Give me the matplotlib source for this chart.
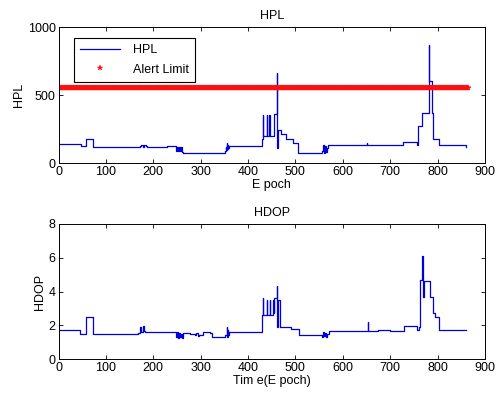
import numpy as np
import matplotlib.pyplot as plt

plt.rcParams['font.family'] = ['Liberation Sans', 'DejaVu Sans']
plt.rcParams['font.size'] = 9

# HPL step breakpoints (epoch, value)
hpl_ep = [0, 47, 58, 73, 172, 175, 178, 181, 184, 186, 228, 249, 251, 253, 255, 257, 259, 261, 263,
          352, 353, 354, 355, 356, 357, 358, 359, 430, 431, 432, 439, 440, 445, 446, 454, 455,
          461, 462, 463, 470, 472, 480, 495, 506, 557, 559, 561, 563, 565, 567, 569,
          650, 652, 655, 700, 728, 757, 759, 760, 767, 781, 782, 783, 788, 791, 803, 860]
hpl_val = [140, 125, 175, 120, 125, 135, 120, 135, 122, 115, 122, 90, 120, 85, 118, 88, 115, 80, 75,
           90, 120, 95, 145, 100, 130, 110, 122, 175, 350, 195, 350, 195, 350, 200, 350, 360,
           660, 110, 240, 215, 215, 180, 150, 75, 90, 130, 75, 125, 80, 110, 130,
           145, 130, 130, 135, 155, 130, 270, 270, 370, 870, 600, 600, 370, 180, 130, 120]

alert_limit = 550
alert_ep = np.arange(0, 866)

# HDOP step breakpoints (epoch, value)
hdop_ep = [0, 45, 58, 73, 168, 172, 175, 178, 181, 183, 228, 249, 251, 253, 255, 257, 259, 261, 263,
           278, 288, 291, 294, 296, 305, 320, 323, 352, 355, 356, 357, 358, 360, 430, 431, 432, 440, 441,
           446, 447, 453, 454, 455, 461, 462, 463, 467, 490, 507, 557, 559, 561, 563, 565, 567, 570,
           653, 654, 655, 675, 700, 730, 757, 760, 762, 768, 770, 771, 783, 790, 795, 803, 806, 860]
hdop_val = [1.7, 1.5, 2.5, 1.5, 1.55, 1.9, 1.6, 1.95, 1.65, 1.6, 1.58, 1.3, 1.6, 1.25, 1.55, 1.3, 1.5, 1.25, 1.55,
            1.5, 1.4, 1.55, 1.35, 1.45, 1.6, 1.55, 1.3, 1.45, 1.9, 1.3, 1.7, 1.4, 1.6, 2.6, 3.6, 2.6, 3.5, 2.6,
            3.5, 2.6, 3.5, 2.7, 3.6, 4.35, 1.9, 3.5, 1.9, 1.75, 1.4, 1.3, 1.6, 1.35, 1.55, 1.3, 1.5, 1.65,
            2.2, 1.65, 1.65, 1.7, 1.65, 1.95, 1.7, 1.9, 4.7, 6.1, 3.7, 4.6, 3.7, 2.7, 2.5, 1.7, 1.7, 1.7]

fig = plt.figure(figsize=(4.96, 3.93), dpi=100)

ax1 = fig.add_axes([58.5/496, 1-163/393, 426.5/496, 136/393])
ax1.plot(hpl_ep, hpl_val, color='#0000dd', lw=0.9, drawstyle='steps-post', label='HPL')
ax1.plot(alert_ep, np.full(len(alert_ep), alert_limit), ls='none', marker='*',
         ms=4, mew=0.3, color='#ff1010', label='Alert Limit')
ax1.set_xlim(0, 900)
ax1.set_ylim(0, 1000)
ax1.set_xticks(range(0, 901, 100))
ax1.set_yticks([0, 500, 1000])
ax1.set_title('HPL', fontsize=9, pad=6)
ax1.set_xlabel('E poch', labelpad=1)
ax1.set_ylabel('HPL', labelpad=2)
leg = ax1.legend(loc='upper left', bbox_to_anchor=(0.022, 0.965), fancybox=False,
                 edgecolor='black', framealpha=1, handlelength=3.2, markerscale=1,
                 borderpad=0.5, labelspacing=0.6, handletextpad=1.0)
leg.get_frame().set_linewidth(0.8)

ax2 = fig.add_axes([58.5/496, 1-359/393, 426.5/496, 135/393])
ax2.plot(hdop_ep, hdop_val, color='#0000dd', lw=0.9, drawstyle='steps-post')
ax2.set_xlim(0, 900)
ax2.set_ylim(0, 8)
ax2.set_xticks(range(0, 901, 100))
ax2.set_yticks([0, 2, 4, 6, 8])
ax2.set_title('HDOP', fontsize=9, pad=6)
ax2.set_xlabel('Tim e(E poch)', labelpad=1)
ax2.set_ylabel('HDOP', labelpad=2)

for ax in (ax1, ax2):
    ax.tick_params(direction='in', top=True, right=True, length=3, width=0.6, pad=2)
    for s in ax.spines.values():
        s.set_linewidth(0.7)

fig.savefig('out.png', dpi=100)
